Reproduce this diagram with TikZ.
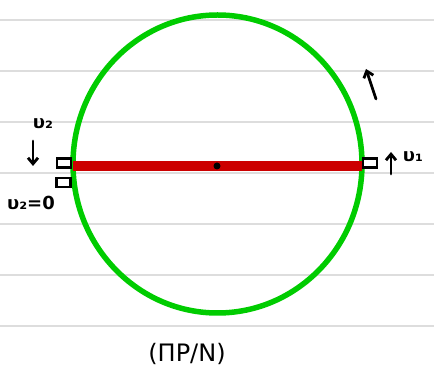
\documentclass[tikz,border=0pt]{standalone}
\usepackage{fontspec}
\setmainfont{DejaVu Sans}
\usetikzlibrary{shapes.geometric,arrows.meta}
\definecolor{ruleg}{HTML}{DDDDDD}
\definecolor{ringg}{HTML}{00CC00}
\definecolor{barred}{HTML}{CC0000}
\tikzset{
  ruling/.style={draw=ruleg,line width=2pt},
  ring/.style={draw=ringg,line width=5.5pt,ellipse,inner sep=0pt,minimum width=289pt,minimum height=298pt},
  bar/.style={draw=barred,line width=10pt},
  sq/.style={draw=black,line width=2.4pt,fill=white,inner sep=0pt,minimum width=14pt,minimum height=9pt},
  hand/.style={-{Straight Barb[length=6pt,width=10pt]},line width=2.8pt,line cap=round},
  lbl/.style={inner sep=0pt,font=\fontsize{18}{20}\selectfont\bfseries}
}
\begin{document}
\begin{tikzpicture}[x=1pt,y=-1pt]
\useasboundingbox (0,0) rectangle (434,371);
\foreach \yy in {20,71,122,173,224,275,326}{
  \draw[ruling] (0,\yy) -- (434,\yy);
}
\node[ring] (circ) at (217.5,164) {};
\coordinate (lb) at (73,166);
\coordinate (rb) at (362,166);
\draw[bar] (lb) -- (rb);
\node[circle,fill=black,inner sep=0pt,minimum size=7pt] (dot) at (217,166) {};
\node[sq] (sl) at (64,163) {};
\node[sq] (sl2) at (63.5,182.5) {};
\node[sq] (sr) at (370,163) {};
\node[lbl] (u2) at (43,124) {υ₂};
\coordinate (dA) at (33,141);
\coordinate (dB) at (33,166);
\draw[hand] (dA) -- (dB);
\node[lbl] (u20) at (31,203) {υ₂=0};
\coordinate (uA) at (391,174);
\coordinate (uB) at (391,152);
\draw[hand] (uA) -- (uB);
\node[lbl] (u1) at (413,157) {υ₁};
\coordinate (tA) at (376,99);
\coordinate (tB) at (366,69);
\draw[hand] (tA) -- (tB);
\node[inner sep=0pt,font=\fontsize{24}{28}\selectfont] (cap) at (187,354) {(ΠP/N)};
\end{tikzpicture}
\end{document}
